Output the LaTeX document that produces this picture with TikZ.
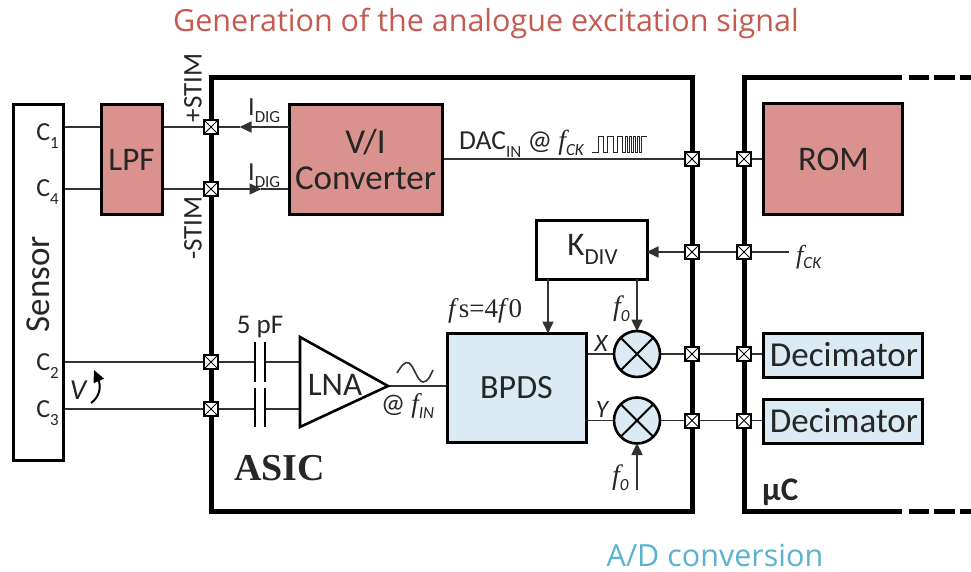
\documentclass[tikz,border=0pt]{standalone}
\usepackage{fontspec}
\setmainfont{Carlito}
\newfontfamily\titlefont{Open Sans}
\newfontfamily\serifnote{Liberation Serif}
\usetikzlibrary{arrows.meta,backgrounds}
\definecolor{chipRose}{RGB}{217,146,141}
\definecolor{chipBlue}{RGB}{218,235,243}
\definecolor{chipWire}{RGB}{50,50,50}
\definecolor{chipText}{RGB}{38,38,38}
\definecolor{chipTitle}{RGB}{197,90,80}
\definecolor{chipConv}{RGB}{88,178,208}
\newcommand{\fsz}[1]{\fontsize{#1}{#1}\selectfont}
\newcommand{\lowsub}[1]{\raisebox{-.28em}{\fsz{17}#1}}
\newcommand{\fitalic}[1]{{\serifnote\itshape f}\raisebox{-.22em}{\fsz{17}\itshape #1}}

\begin{document}
\begin{tikzpicture}[x=1pt,y=-1pt,
      frame/.style={line width=5pt, line join=miter},
      wire/.style={draw=chipWire, line width=1.6pt},
      tipped/.style={wire, -{Triangle[length=12pt,width=11pt]}, shorten >=-.5pt},
      blockbox/.style={draw=black, line width=3pt, anchor=north west, inner sep=0pt, outer sep=0pt,
        font=\fsz{33}, text=chipText, align=center},
      pad/.style={draw=black, fill=white, line width=2pt, minimum size=14pt, inner sep=0pt,
        path picture={\draw[black, line width=1pt]
          (path picture bounding box.south west) -- (path picture bounding box.north east)
          (path picture bounding box.north west) -- (path picture bounding box.south east);}},
      mixer/.style={circle, draw=black, fill=chipBlue, line width=2.6pt, minimum size=46pt, inner sep=0pt, outer sep=0pt,
        path picture={\draw[black, line width=1.8pt]
          (path picture bounding box.center) ++(-17,-17) -- ++(34,34)
          (path picture bounding box.center) ++(17,-17) -- ++(-34,34);}},
      plate/.style={line width=2.6pt},
      label/.style={font=\fsz{26}, text=chipText, inner sep=0pt}]
      \useasboundingbox (0,0) rectangle (971,572);

      % Frames of the two chips.
      \draw[frame] (211,78) rectangle (692,511);
      \draw[frame] (902,78) -- (744,78) -- (744,511) -- (902,511);
      \foreach \y in {78,511}{
        \draw[frame] (909,\y) -- (929,\y) (934,\y) -- (955,\y) (960,\y) -- (971,\y);}

      % Blocks.
      \node[blockbox, minimum width=50pt, minimum height=355pt] (sensor) at (13,105) {};
      \node[label, rotate=90, font=\fsz{35}] (sensorText) at (38,284) {Sensor};
      \node[blockbox, fill=chipRose, minimum width=61pt, minimum height=109pt] (lpf) at (101,105) {LPF};
      \node[blockbox, fill=chipRose, minimum width=153pt, minimum height=109pt, font=\fsz{35}\linespread{1.05}\selectfont] (vi) at (289,105) {V/I\\Converter};
      \node[blockbox, fill=chipRose, minimum width=139pt, minimum height=110pt, font=\fsz{34.5}] (rom) at (763,104) {\hspace*{2pt}ROM};
      \node[blockbox, minimum width=111pt, minimum height=59pt] (kdiv) at (536,220) {\hspace*{2pt}K\lowsub{\fsz{23}DIV}};
      \node[blockbox, fill=chipBlue, minimum width=139pt, minimum height=109pt, font=\fsz{34}] (bpds) at (447,333) {BPDS};
      \node[blockbox, fill=chipBlue, minimum width=159pt, minimum height=44pt, font=\fsz{35}] (decX) at (763,333) {\hspace*{3pt}\raisebox{-2pt}{Decimator}};
      \node[blockbox, fill=chipBlue, minimum width=159pt, minimum height=44pt, font=\fsz{35}] (decY) at (763,399) {\hspace*{3pt}\raisebox{-2pt}{Decimator}};

      % Amplifier and its two capacitors.
      \coordinate (lnaTop) at (300,337);
      \coordinate (lnaTip) at (388,386);
      \coordinate (lnaBot) at (300,427);
      \draw[line width=2.6pt, line join=miter] (lnaTop) -- (lnaTip) -- (lnaBot) -- cycle;
      \node[label, font=\fsz{33}] (lnaText) at (335,385) {LNA};
      \foreach \x in {255,265}{
        \draw[plate] (\x,342) -- (\x,382) (\x,388) -- (\x,427);}

      % Pins and pads.
      \coordinate (pinA) at (63,127);
      \coordinate (pinD) at (63,189);
      \coordinate (pinB) at (63,362);
      \coordinate (pinC) at (63,409);
      \coordinate (capBl) at (255,362);
      \coordinate (capBr) at (265,362);
      \coordinate (capCl) at (255,409);
      \coordinate (capCr) at (265,409);
      \coordinate (arrowA) at (240,127);
      \coordinate (arrowD) at (261,189);
      \coordinate (clkIn) at (789,252);
      \coordinate (loIn) at (637,490);
      \coordinate (divOut) at (548,279);
      \coordinate (bpdsIn) at (548,333);
      \node[pad] (padA) at (211,127) {};
      \node[pad] (padD) at (211,189) {};
      \node[pad] (padB) at (211,362) {};
      \node[pad] (padC) at (211,409) {};
      \node[pad] (padDac) at (692,159) {};
      \node[pad] (padRom) at (744,159) {};
      \node[pad] (padClkA) at (692,252) {};
      \node[pad] (padClkU) at (744,252) {};
      \node[pad] (padXa) at (692,354) {};
      \node[pad] (padXu) at (744,354) {};
      \node[pad] (padYa) at (692,420.5) {};
      \node[pad] (padYu) at (744,420.5) {};
      \node[mixer] (mixX) at (637,354) {};
      \node[mixer] (mixY) at (637,420.5) {};

      % Connectors.
      \begin{scope}[on background layer]
        \draw[wire] (pinA) -- (lpf.west |- pinA);
        \draw[wire] (pinD) -- (lpf.west |- pinD);
        \draw[wire] (lpf.east |- padA) -- (padA);
        \draw[wire] (lpf.east |- padD) -- (padD);
        \draw[wire] (padA) -- (arrowA);
        \draw[wire] (vi.west |- padD) -- (arrowD);
        \draw[wire] (pinB) -- (padB);
        \draw[wire] (pinC) -- (padC);
        \draw[wire] (padB) -- (capBl);
        \draw[wire] (padC) -- (capCl);
        \draw[wire] (capBr) -- (lnaTop |- capBr);
        \draw[wire] (capCr) -- (lnaTop |- capCr);
        \draw[wire] (lnaTip) -- (bpds.west |- lnaTip);
        \draw[wire] (vi.east |- padDac) -- (padDac);
        \draw[wire] (padDac) -- (padRom);
        \draw[wire] (padRom) -- (rom.west |- padRom);
        \draw[wire] (clkIn) -- (padClkU);
        \draw[wire] (padClkU) -- (padClkA);
        \draw[wire] (bpds.east |- mixX) -- (mixX);
        \draw[wire] (bpds.east |- mixY) -- (mixY);
        \draw[wire] (mixX) -- (padXa);
        \draw[wire] (mixY) -- (padYa);
        \draw[wire] (padXa) -- (padXu);
        \draw[wire] (padYa) -- (padYu);
        \draw[wire] (padXu) -- (decX.west |- padXu);
        \draw[wire] (padYu) -- (decY.west |- padYu);
      \end{scope}
      \draw[tipped] (vi.west |- padA) -- (arrowA);
      \draw[tipped] (padD) -- (arrowD);
      \draw[tipped] (padClkA) -- (kdiv.east |- padClkA);
      \draw[tipped] (divOut) -- (bpdsIn);
      \draw[tipped] (kdiv.south -| mixX) -- (mixX.north);
      \draw[tipped] (loIn) -- (mixY.south);

      % Voltage arrow, sine and pulse train.
      \draw[line width=2pt, -{Triangle[length=12pt,width=11pt]}]
        (91,403) .. controls (100,397) and (101,386) .. (94,370);
      \draw[line width=1.6pt, chipWire] (397,373) .. controls (402,365) and (405,361) .. (409,363)
        .. controls (414,366) and (417,381) .. (423,382) .. controls (428,382) and (430,376) .. (433,370);
      \draw[line width=1pt, chipText] (592,153) -- (598,153) -- (598,137) -- (603,137) -- (603,153)
        -- (607,153) -- (607,137) -- (613,137) -- (613,153) -- (617,153) -- (617,137) -- (622,137)
        -- (622,153) -- (625,153) -- (625,137) -- (627,137) -- (627,153) -- (629,153) -- (629,137)
        -- (631,137) -- (631,153) -- (633,153) -- (633,137) -- (635,137) -- (635,153) -- (637,153)
        -- (637,137) -- (639,137) -- (639,153) -- (641,153) -- (641,137) -- (647,137);

      % Labels.
      \node[label, anchor=east] (nameA) at (59,136) {C\lowsub{1}};
      \node[label, anchor=east] (nameD) at (59,192) {C\lowsub{4}};
      \node[label, anchor=east] (nameB) at (59,366) {C\lowsub{2}};
      \node[label, anchor=east] (nameC) at (59,413) {C\lowsub{3}};
      \node[label, font=\fsz{29}\itshape] (voltName) at (78,390) {V};
      \node[label, rotate=90, font=\fsz{27}] (stimP) at (193,88) {+STIM};
      \node[label, rotate=90, font=\fsz{27}] (stimN) at (193,228) {-STIM};
      \node[label, anchor=west] (idigA) at (248,111) {I\lowsub{DIG}};
      \node[label, anchor=west] (idigD) at (248,176) {I\lowsub{DIG}};
      \node[label, anchor=west, font=\fsz{27.5}] (dacName) at (459,144) {DAC\lowsub{IN} @ \fitalic{CK}};
      \node[label, anchor=west] (clkName) at (796,257) {\fitalic{CK}};
      \node[label, font=\fsz{27}] (capName) at (260,327) {5 pF};
      \node[label, anchor=west, font=\fsz{27}] (finName) at (381,406) {@ \fitalic{IN}};
      \node[label, anchor=west, font=\fsz{27}\serifnote] (fsName) at (448,311) {\textit{f}s=4\textit{f}0};
      \node[label, font=\fsz{25}\itshape] (xName) at (601,343) {X};
      \node[label, font=\fsz{25}\itshape] (yName) at (602,409) {Y};
      \node[label, anchor=west, font=\fsz{28}] (loTop) at (613,309) {\fitalic{0}};
      \node[label, anchor=west, font=\fsz{28}] (loBot) at (612,478) {\fitalic{0}};
      \node[label, anchor=west, font=\fsz{38}\serifnote\bfseries] (asicName) at (234,468) {ASIC};
      \node[label, anchor=west, font=\fsz{33}\bfseries] (ucName) at (762,492) {µC};
      \node[font=\fsz{30.5}\titlefont, text=chipTitle, inner sep=0pt] (titleTop) at (486,23) {Generation of the analogue excitation signal};
      \node[font=\fsz{30.5}\titlefont, text=chipConv, inner sep=0pt] (titleBot) at (715,555) {A/D conversion};
    \end{tikzpicture}
\end{document}
